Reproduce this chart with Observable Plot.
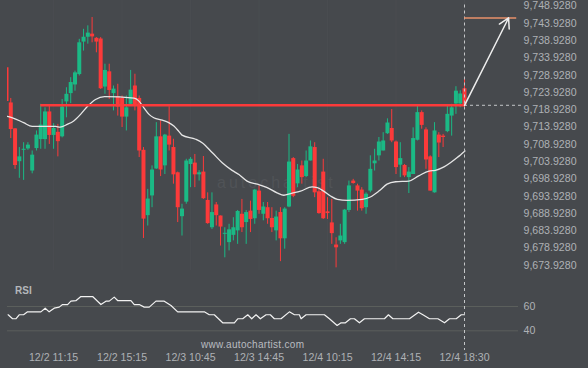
<!DOCTYPE html>
<html><head><meta charset="utf-8">
<script src="https://cdn.jsdelivr.net/npm/d3@7"></script>
<script src="https://cdn.jsdelivr.net/npm/@observablehq/plot@0.6"></script>
<style>
html,body{margin:0;padding:0;background:#46494d;}
#wrap{position:relative;width:588px;height:368px;background:#46494d;overflow:hidden;font-family:"Liberation Sans",Arial,sans-serif;}
#wrap svg{position:absolute;left:0;overflow:visible;background:transparent;}
.lbl{position:absolute;white-space:nowrap;}
</style></head><body><div id="wrap">
<div class="lbl" style="left:217px;top:174px;font-size:16px;letter-spacing:3px;color:#505357;">autochartist</div>
<div class="lbl" style="left:15px;top:285px;font-size:10px;font-weight:bold;color:#b4b7bb;">RSI</div>
<div class="lbl" style="left:201px;top:339px;font-size:10px;letter-spacing:0.3px;color:#b9bcc0;">www.autochartist.com</div>
</div>
<script>
// ---- data ----
const open  = [9730.8,9720.6,9713.1,9703.6,9706.9,9707.3,9700.9,9707.4,9710.0,9710.0,9718.0,9711.2,9712.1,9710.8,9720.9,9723.3,9725.8,9728.8,9738.2,9739.6,9740.5,9739.3,9739.1,9725.2,9729.6,9723.3,9722.3,9721.9,9716.5,9720.2,9725.5,9721.9,9706.9,9688.0,9693.7,9701.5,9710.8,9702.4,9711.0,9707.7,9700.4,9687.7,9691.9,9702.8,9703.2,9699.8,9700.6,9692.4,9684.5,9691.1,9687.9,9682.6,9680.2,9682.3,9683.6,9688.4,9686.0,9689.3,9687.1,9695.1,9688.4,9690.3,9687.2,9683.6,9688.9,9681.3,9690.5,9704.5,9697.2,9702.4,9699.3,9703.8,9707.7,9694.9,9700.6,9689.1,9685.9,9679.5,9680.7,9680.2,9689.5,9698.0,9696.6,9695.4,9690.3,9695.1,9703.0,9705.3,9706.7,9711.7,9713.2,9709.3,9702.6,9702.5,9699.0,9699.9,9709.8,9717.8,9712.8,9705.0,9694.6,9711.3,9711.0,9712.3,9716.8,9720.3,9720.3,9724.7];
const high  = [9731.0,9721.9,9713.2,9707.7,9709.1,9709.1,9706.7,9712.5,9720.2,9719.2,9719.7,9714.6,9714.4,9721.6,9725.0,9727.9,9729.8,9739.0,9741.9,9742.9,9745.3,9739.5,9739.5,9731.8,9731.8,9725.5,9726.0,9722.6,9722.6,9730.0,9728.9,9722.6,9707.7,9695.6,9702.4,9714.9,9715.4,9711.5,9719.5,9710.1,9700.6,9691.3,9704.3,9704.8,9705.7,9701.0,9705.1,9694.6,9694.6,9691.8,9687.9,9684.5,9685.5,9687.4,9689.5,9692.7,9689.5,9692.2,9695.6,9696.6,9691.8,9691.8,9690.3,9689.3,9690.3,9690.3,9711.5,9704.8,9702.8,9703.8,9706.7,9709.6,9709.1,9696.1,9704.3,9693.2,9692.7,9681.6,9685.5,9689.8,9698.0,9698.5,9697.1,9696.1,9694.6,9705.3,9707.2,9710.6,9712.0,9716.0,9718.7,9709.6,9709.1,9702.8,9701.9,9713.4,9719.7,9718.3,9713.4,9705.3,9714.9,9712.0,9711.5,9719.7,9720.2,9725.3,9724.1,9727.6];
const low   = [9720.5,9710.3,9701.4,9698.8,9698.2,9706.9,9700.1,9706.7,9707.2,9707.2,9708.6,9707.2,9705.0,9710.5,9716.3,9720.4,9724.0,9728.4,9735.6,9737.6,9738.0,9735.1,9724.5,9723.1,9721.6,9718.3,9716.8,9713.5,9712.5,9720.0,9718.3,9704.8,9681.4,9685.0,9690.3,9701.4,9699.3,9699.9,9706.7,9697.1,9686.0,9682.1,9691.3,9696.1,9696.1,9698.0,9692.7,9685.5,9684.0,9685.0,9679.2,9675.8,9677.8,9680.7,9679.7,9683.1,9679.7,9683.1,9685.5,9688.4,9686.5,9685.5,9683.1,9680.7,9674.7,9678.3,9690.3,9693.2,9696.1,9697.1,9699.0,9703.8,9693.2,9688.4,9686.9,9686.9,9679.7,9672.9,9679.7,9679.7,9688.9,9697.1,9689.3,9689.3,9688.4,9694.6,9700.9,9703.8,9706.7,9711.5,9709.1,9699.9,9699.0,9699.0,9694.4,9699.9,9709.6,9713.0,9701.4,9695.1,9694.5,9704.8,9707.7,9712.0,9711.0,9717.3,9719.2,9719.2];
const close = [9721.0,9712.9,9702.5,9705.0,9707.2,9708.4,9705.5,9711.3,9714.2,9718.0,9711.2,9713.2,9709.4,9719.4,9723.1,9726.5,9729.3,9738.0,9739.6,9740.8,9739.7,9738.2,9724.7,9730.0,9724.2,9724.6,9719.4,9716.5,9719.2,9724.3,9720.0,9706.7,9687.0,9692.8,9701.2,9710.8,9701.2,9711.3,9708.4,9699.8,9690.3,9689.9,9703.8,9704.3,9699.8,9700.4,9692.9,9685.7,9688.9,9688.0,9684.7,9682.9,9683.9,9684.5,9689.2,9684.5,9688.9,9686.9,9695.4,9689.5,9690.5,9687.1,9684.5,9687.6,9681.3,9689.9,9703.5,9693.6,9701.2,9699.0,9703.8,9707.9,9694.6,9688.6,9687.1,9688.6,9682.8,9678.7,9682.1,9689.6,9696.6,9697.3,9695.1,9690.0,9694.2,9701.4,9703.8,9709.3,9709.6,9714.8,9709.6,9701.9,9704.5,9699.5,9700.6,9710.3,9717.8,9714.1,9704.1,9695.1,9712.5,9709.0,9710.6,9717.3,9719.2,9724.0,9723.2,9720.0];

const maIdx = [0.2,1.4,4,6,11.5,12.5,14.2,15.7,17.3,19,20.8,22.9,29.8,30.9,32.1,33.3,34.4,36.4,37.9,39.1,40.3,41,44.2,45.7,48.1,50.4,52.7,54.3,56.2,58.6,60.9,63.2,64.8,66.4,68.7,71.4,72.6,74.1,75.7,77.3,79.6,83.1,85,87,88.9,90.9,94,96.3,98.7,100.2,102.2,103.7,105.3,107.1];
const maVal = [9716.7,9716.3,9714.9,9713.8,9713.8,9713.6,9714.4,9715.4,9717.3,9719.7,9721.6,9722.4,9722.0,9721.2,9719.2,9717.3,9716.3,9715.6,9714.9,9713.9,9712.3,9711.3,9710.1,9709.1,9706.2,9703.3,9701.1,9699.9,9698.0,9697.1,9696.1,9694.6,9693.9,9694.4,9695.1,9696.3,9696.1,9695.1,9693.7,9692.7,9692.4,9692.7,9693.4,9695.1,9697.1,9697.8,9698.0,9699.5,9700.9,9701.1,9702.1,9703.3,9704.8,9706.7];

const rsiIdx = [0.39,1.41,2.19,2.96,3.99,4.92,8.03,9.04,9.97,11.14,12.31,13.1,14.27,15.05,16.21,17.38,20.12,22.06,23.23,24.0,25.17,25.96,29.07,29.85,31.01,32.18,33.35,34.92,36.86,38.43,39.99,46.21,47.38,48.55,50.51,53.23,54.02,55.19,56.36,57.29,58.3,59.31,60.64,61.64,62.58,64.14,66.09,67.26,68.42,68.82,69.99,74.27,75.44,77.24,78.17,79.18,80.35,81.28,82.45,83.62,88.3,89.23,90.26,94.14,96.25,97.28,98.82,100.79,102.33,103.5,105.07,106.24,107.0];
const rsiVal = [53.2,49.9,49.9,53.2,53.2,55.6,55.6,58.6,55.6,58.6,59.5,61.6,61.6,64.4,64.8,68.2,68.2,61.6,64.4,64.4,67.7,64.9,64.9,61.6,61.6,59.5,59.5,64.4,64.4,60.8,55.6,55.6,53.2,53.2,46.6,46.6,49.9,49.9,53.2,49.9,53.2,49.9,53.2,53.2,49.9,49.9,55.6,53.2,53.2,49.9,53.2,53.2,49.9,44.4,46.6,46.6,49.9,49.9,46.6,49.9,49.9,53.2,49.9,49.9,55.3,53.2,49.9,49.9,46.6,49.9,49.9,53.2,53.2];

const xTickIdx = [11,27,43,59,75,91,107];
const xTickLabels = ["12/2 11:15","12/2 15:15","12/3 10:45","12/3 14:45","12/4 10:15","12/4 14:15","12/4 18:30"];
const priceTicks = [9673.928,9678.928,9683.928,9688.928,9693.928,9698.928,9703.928,9708.928,9713.928,9718.928,9723.928,9728.928,9733.928,9738.928,9743.928,9748.928];
const rsiTicks = [40,60];

const level = 9719.92;       // resistance level
const levelStart = 8;        // candle index where level begins
const lastIdx = 107;         // last candle
const target = 9745.17;      // forecast target
const arrowEndIdx = 117.3;
const targetEndIdx = 119.2;
const levelExtEndIdx = 120.3;

// ---- styles ----
const GREEN = "#1bb985", RED = "#fc3a3a", ORANGE = "#e8916a";
const TXT = "#aeb1b5";
const FONT = "'Liberation Sans', Arial, sans-serif";
const xScale = {domain: [0, 107], range: [6, 464], axis: null};

const candles = open.map((o, i) => ({i, o, h: high[i], l: low[i], c: close[i], col: close[i] >= o ? GREEN : RED}));
const ma = maIdx.map((x, k) => ({x, y: maVal[k]}));
const rsi = rsiIdx.map((x, k) => ({x, y: rsiVal[k]}));

const main = Plot.plot({
  width: 588, height: 270,
  marginLeft: 7, marginRight: 70, marginTop: 0, marginBottom: 0,
  x: xScale,
  y: {domain: [9673.928, 9748.928], range: [263.8, 4.5], axis: null},
  style: {background: "transparent", color: TXT, fontFamily: FONT, fontSize: "10.6px"},
  marks: [
    Plot.ruleX(xTickIdx, {stroke: "#4a4d51", strokeWidth: 1}),
    Plot.ruleX(candles, {x: "i", y1: "l", y2: "h", stroke: "col", strokeWidth: 1, clip: true}),
    Plot.ruleX(candles, {x: "i", y1: "o", y2: "c", stroke: "col", strokeWidth: 4, clip: true}),
    Plot.line(ma, {x: "x", y: "y", stroke: "#e6e6e6", strokeWidth: 1.3, curve: "monotone-x", clip: true}),
    Plot.ruleY([level], {x1: levelStart, x2: lastIdx, stroke: RED, strokeWidth: 2.5}),
    Plot.ruleY([level], {x1: lastIdx, x2: levelExtEndIdx, stroke: "#c4c6c8", strokeWidth: 1, strokeDasharray: "3,3"}),
    Plot.ruleX([lastIdx], {y1: 9748.928, y2: 9672.0, stroke: "#c4c6c8", strokeWidth: 1, strokeDasharray: "3,3"}),
    Plot.ruleY([target], {x1: lastIdx, x2: targetEndIdx, stroke: ORANGE, strokeWidth: 1.5}),
    Plot.arrow([0], {x1: lastIdx, y1: level, x2: arrowEndIdx, y2: target, stroke: "#eeeeee", strokeWidth: 1.5, headLength: 11, insetStart: 0, insetEnd: 0}),
    Plot.axisY(priceTicks, {anchor: "right", tickSize: 0, tickPadding: 5, dy: 1, tickFormat: d3.format(",.4f"), fill: TXT, label: null})
  ]
});
main.style.top = "0px";

const rsiPlot = Plot.plot({
  width: 588, height: 98,
  marginLeft: 7, marginRight: 70, marginTop: 0, marginBottom: 18,
  x: xScale,
  y: {domain: [40, 60], range: [60.3, 36], axis: null},
  style: {background: "transparent", color: TXT, fontFamily: FONT, fontSize: "10.6px"},
  marks: [
    Plot.ruleY(rsiTicks, {stroke: "#5b5f5c", strokeWidth: 1}),
    Plot.line(rsi, {x: "x", y: "y", stroke: "#f2f2f2", strokeWidth: 1.2}),
    Plot.ruleX([lastIdx], {stroke: "#c4c6c8", strokeWidth: 1, strokeDasharray: "3,3"}),
    Plot.axisY(rsiTicks, {anchor: "right", tickSize: 0, tickPadding: 5, fill: TXT, label: null}),
    Plot.axisX(xTickIdx, {anchor: "bottom", tickSize: 0, tickPadding: 3, fill: TXT, label: null, tickFormat: d => xTickLabels[xTickIdx.indexOf(d)]})
  ]
});
rsiPlot.style.top = "270px";

const wrap = document.getElementById("wrap");
wrap.appendChild(main);
wrap.appendChild(rsiPlot);
</script>
</body></html>
